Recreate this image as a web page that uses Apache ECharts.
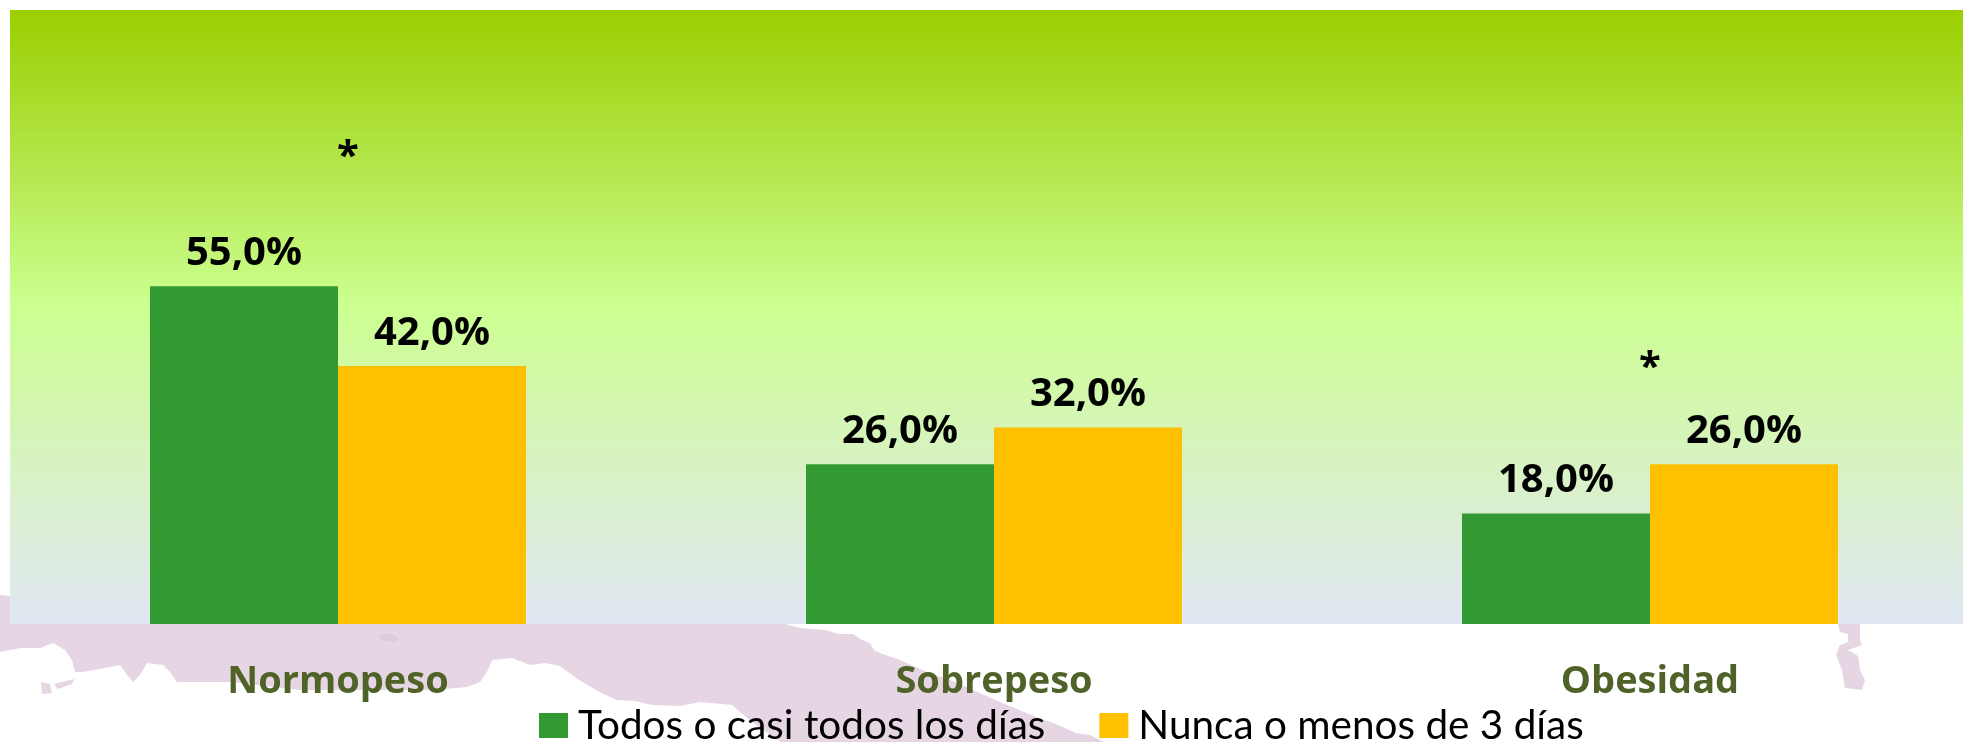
<!DOCTYPE html>
<html><head><meta charset="utf-8">
<style>html,body{margin:0;padding:0;background:#fff;overflow:hidden}#c{width:1963px;height:742px}</style>
<script src="https://cdn.jsdelivr.net/npm/echarts@6/dist/echarts.min.js"></script>
</head><body><div id="c"></div>
<script>
const categories = ['Normopeso', 'Sobrepeso', 'Obesidad'];
const seriesNames = ['Todos o casi todos los días', 'Nunca o menos de 3 días'];
const todosValues = [55, 26, 18];
const nuncaValues = [42, 32, 26];
const asteriskValues = [76, null, 41.6];

const pct = p => p.value.toFixed(1).replace('.', ',') + '%';
const MAP = '#E6D6E3';
const mainland = [[0,595],[9,596],[768,624],[782,623],[800,628],[825,630],[839,634],[853,634],[862,640],[870,643],[874,650],[880,653],[900,660],[929,673],[950,680],[973,690],[1000,702],[1036,717],[1056,724],[1076,733],[1090,735],[1104,742],
  [781,742],[760,728],[741,713],[732,705],[700,702],[680,706],[652,705],[635,701],[616,700],[596,690],[576,678],[560,666],[545,663],[530,665],[512,658],[492,660],[487,672],[480,682],[467,687],[432,690],[300,690],[232,682],[200,682],[177,682],[170,672],[163,665],[147,663],[140,675],[133,682],[125,672],[120,665],[100,669],[82,672],[75,672],[72,660],[65,650],[53,643],[40,648],[20,648],[0,652]];
const islet = [[1838,624],[1860,624],[1860,640],[1862,645],[1848,650],[1858,656],[1860,670],[1865,680],[1862,690],[1845,688],[1842,670],[1836,655],[1840,645],[1848,642],[1848,634],[1840,632]];
const keys = [[41,682],[50,684],[52,693],[42,694]];
const keys2 = [[54,684],[74,679],[72,684],[58,689]];
const spot = [[378,634],[392,634],[399,638],[396,642],[382,641]];

const chart = echarts.init(document.getElementById('c'), null, {renderer: 'canvas'});
const labelFont = {fontFamily: 'Open Sans', fontWeight: 'bold', fontSize: 40, color: '#000'};
chart.setOption({
  animation: false,
  backgroundColor: '#ffffff',
  graphic: [mainland, islet, keys, keys2].map(points => (
    {type: 'polygon', z: -10, silent: true, shape: {points}, style: {fill: MAP}}
  )).concat([{type: 'polygon', z: -9, silent: true, shape: {points: spot}, style: {fill: '#DDCCDA'}}]),
  grid: {
    left: 10, top: 10, width: 1968, height: 614, show: true, borderWidth: 0, z: 1,
    outerBoundsMode: 'none',
    backgroundColor: {type: 'linear', x: 0, y: 0, x2: 0, y2: 1, colorStops: [
      {offset: 0, color: '#9BCF00'},
      {offset: 0.25, color: '#B2E64A'},
      {offset: 0.48, color: '#CCFF90'},
      {offset: 0.75, color: '#D8F2C4'},
      {offset: 1, color: '#E0E7F3'}
    ]}
  },
  legend: {
    left: 539, top: 698, padding: 0, itemWidth: 29, itemHeight: 25, itemGap: 54,
    data: seriesNames.map(name => ({name, icon: 'rect'})),
    textStyle: {fontFamily: 'Lato', fontSize: 40.5, lineHeight: 49, color: '#000', padding: [6, 0, 0, 5]}
  },
  xAxis: {
    type: 'category', data: categories,
    axisLine: {show: false}, axisTick: {show: false},
    axisLabel: {margin: 39, fontFamily: 'Open Sans', fontWeight: 'bold', fontSize: 38, color: '#4F6228'}
  },
  yAxis: {type: 'value', min: 0, max: 100, show: false},
  series: [
    {name: seriesNames[0], type: 'bar', data: todosValues, barWidth: 188, barGap: 0, itemStyle: {color: '#339933'},
     label: {show: true, position: 'top', distance: 13, formatter: pct, ...labelFont}},
    {name: seriesNames[1], type: 'bar', data: nuncaValues, barWidth: 188, barGap: 0, itemStyle: {color: '#FFC000'},
     label: {show: true, position: 'top', distance: 13, formatter: pct, ...labelFont}},
    {name: 'asterisco', type: 'scatter', symbolSize: 1, itemStyle: {color: 'transparent', opacity: 1},
     data: asteriskValues.map((v, i) => ({value: v, label: {offset: [i === 0 ? 10 : 0, 0]}})),
     label: {show: true, position: 'inside', formatter: '*', ...labelFont}}
  ]
});
</script></body></html>
